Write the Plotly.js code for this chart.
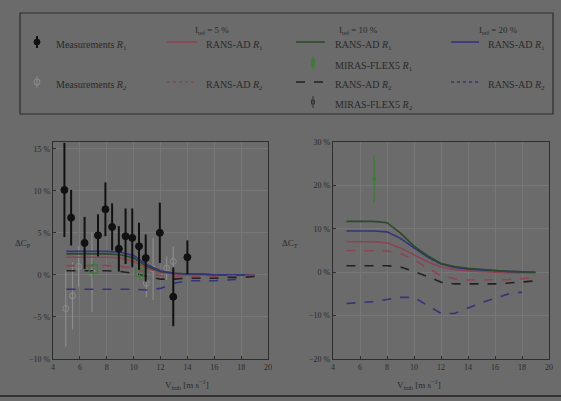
<!DOCTYPE html>
<html><head><meta charset="utf-8">
<script src="https://cdn.plot.ly/plotly-3.0.1.min.js"></script>
<style>html,body{margin:0;padding:0;background:#6b6b6b;}#plot{width:561px;height:401px;}</style>
</head><body><div id="plot"></div>
<script>
// ---- data ----
const xRans = [5,6,7,8,9,10,11,12,13,14,15,16,17,18,19];
const xRansB = [5,6,7,8,9,10,11,12,13,14,15,16,17,18];
// left panel (Delta C_P)
const leftR1_5  = [2.1,2.1,2.1,2.1,2.0,1.6,0.8,0.3,0.1,0.0,0.0,0.0,0.0,0.0,0.0];
const leftR1_10 = [2.5,2.5,2.5,2.5,2.4,2.0,1.0,0.4,0.2,0.1,0.1,0.0,0.0,0.0,0.0];
const leftR1_20 = [2.8,2.8,2.8,2.8,2.7,2.3,1.2,0.5,0.2,0.1,0.1,0.0,0.0,0.0,0.0];
const leftR2_5  = [1.1,1.1,1.1,1.1,1.0,0.8,0.3,-0.1,-0.2,-0.2,-0.2,-0.2,-0.1,-0.1,0.0];
const leftR2_10 = [0.5,0.5,0.5,0.5,0.4,0.2,-0.2,-0.5,-0.5,-0.4,-0.4,-0.4,-0.3,-0.3,-0.2];
const leftR2_20 = [-1.7,-1.7,-1.7,-1.7,-1.7,-1.7,-1.8,-1.6,-1.0,-0.7,-0.7,-0.7,-0.6,-0.5];
const measX1 = [4.85,5.35,6.35,7.35,7.9,8.4,8.9,9.4,9.9,10.4,10.9,11.95,12.95,14.0];
const measY1 = [10.1,6.8,3.8,4.7,7.8,5.7,3.1,4.6,4.4,3.4,2.0,5.0,-2.6,2.1];
const measE1 = [5.6,3.3,3.1,2.5,3.2,2.8,2.7,3.3,3.5,2.8,2.8,3.6,3.5,2.0];
const measX2 = [4.95,5.45,5.9,6.9,10.95,11.45,12.45,12.95];
const measY2 = [-4.0,-2.5,1.0,0.3,-1.0,0.7,0.8,1.6];
const measE2 = [4.5,4.0,2.4,4.7,1.6,3.7,1.4,1.8];
const mirasLX = [7.0,10.45];
const mirasLY = [0.7,0.3];
const mirasLE = [1.0,1.0];
// right panel (Delta C_T)
const rightR1_5  = [7.0,7.0,7.0,6.8,5.6,4.0,2.4,1.2,0.6,0.3,0.1,0.0,-0.1,-0.2,-0.2];
const rightR1_10 = [11.7,11.7,11.7,11.4,9.0,6.0,3.8,2.0,1.3,0.9,0.6,0.4,0.2,0.1,0.0];
const rightR1_20 = [9.5,9.5,9.5,9.3,7.8,5.6,3.5,1.9,1.1,0.7,0.5,0.3,0.2,0.1,0.0];
const rightR2_5  = [5.0,5.0,5.0,4.9,4.3,2.8,1.0,-0.8,-1.5,-1.8,-1.8,-1.8,-1.7,-1.5,-1.2];
const rightR2_10 = [1.5,1.5,1.5,1.5,1.2,0.2,-1.0,-2.3,-2.7,-2.7,-2.7,-2.7,-2.5,-2.3,-2.0];
const rightR2_20 = [-7.2,-7.0,-6.8,-6.3,-5.8,-5.8,-7.7,-9.5,-9.5,-8.2,-7.0,-6.0,-5.0,-4.6];
const mirasRX = [7.05];
const mirasRY = [21.5];
const mirasRE = [5.5];
const leftTicks = [-10,-5,0,5,10,15];
const leftTickText = ['−10 %','−5 %','0 %','5 %','10 %','15 %'];
const rightTicks = [-20,-10,0,10,20,30];
const rightTickText = ['−20 %','−10 %','0 %','10 %','20 %','30 %'];
const xTicks = [4,6,8,10,12,14,16,18,20];
const legendHeaders = ['I<sub>ref</sub> = 5 %','I<sub>ref</sub> = 10 %','I<sub>ref</sub> = 20 %'];

// ---- style ----
const BG = '#6b6b6b', TXT = '#2a2a2a', GRID = '#777777';
const RED = '#8a4452', GRN = '#2a4a2a', BLU = '#34347c', BLK = '#222222', MGRN = '#3f7a3a', GRAY='#8c8c8c';
const F = 'Liberation Serif, DejaVu Serif, serif';

function line(x,y,color,dash,ax){return {x:x,y:y,mode:'lines',type:'scatter',line:{color:color,width:1.6,dash:dash},xaxis:ax[0],yaxis:ax[1],hoverinfo:'skip'};}
function meas(x,y,e,ax,filled){return {x:x,y:y,mode:'markers',type:'scatter',xaxis:ax[0],yaxis:ax[1],
  marker:{symbol:filled?'circle':'circle-open',size:filled?7:6,color:filled?'#111':GRAY,line:{width:1,color:filled?'#111':GRAY}},
  error_y:{type:'data',array:e,visible:true,width:0,thickness:filled?2:1.2,color:filled?'#111':GRAY}};}
const A1=['x','y'], A2=['x2','y2'];
const traces = [
  meas(measX2,measY2,measE2,A1,false),
  line(xRans,leftR1_5,RED,'solid',A1),
  line(xRans,leftR1_10,GRN,'solid',A1),
  line(xRans,leftR1_20,BLU,'solid',A1),
  line(xRans,leftR2_5,RED,'dash',A1),
  line(xRans,leftR2_10,BLK,'dash',A1),
  line(xRansB,leftR2_20,BLU,'dash',A1),
  {x:mirasLX,y:mirasLY,mode:'markers',type:'scatter',xaxis:'x',yaxis:'y',marker:{symbol:'square-open',size:8,color:MGRN,line:{width:1.5,color:MGRN}},error_y:{type:'data',array:mirasLE,visible:true,width:0,thickness:1.2,color:MGRN}},
  meas(measX1,measY1,measE1,A1,true),
  line(xRans,rightR1_5,RED,'solid',A2),
  line(xRans,rightR1_20,BLU,'solid',A2),
  line(xRans,rightR1_10,GRN,'solid',A2),
  line(xRans,rightR2_5,RED,'dash',A2),
  line(xRans,rightR2_10,BLK,'dash',A2),
  line(xRansB,rightR2_20,BLU,'dash',A2),
  {x:mirasRX,y:mirasRY,mode:'markers',type:'scatter',xaxis:'x2',yaxis:'y2',marker:{symbol:'square',size:4,color:MGRN,line:{width:0}},error_y:{type:'data',array:mirasRE,visible:true,width:0,thickness:1.3,color:MGRN}}
];

const ax = (dom)=>({domain:dom,range:[4,20],tickvals:xTicks,ticktext:xTicks.map(String),showgrid:true,gridcolor:GRID,gridwidth:1,zeroline:false,
  showline:true,mirror:true,linecolor:'#2e2e2e',linewidth:1.3,ticks:'inside',ticklen:3,tickcolor:'#2e2e2e',tickfont:{family:F,size:8,color:TXT}});
const ay = (dom,rng,tv,tt,anchor)=>({domain:dom,range:rng,tickvals:tv,ticktext:tt,anchor:anchor,showgrid:true,gridcolor:GRID,gridwidth:1,zeroline:false,
  showline:true,mirror:true,linecolor:'#2e2e2e',linewidth:1.3,ticks:'inside',ticklen:3,tickcolor:'#2e2e2e',tickfont:{family:F,size:8,color:TXT}});

const W=561,H=401;
const px=(v)=>v/W, py=(v)=>1-v/H;
const yDom=[py(359),py(142)];
const shapes=[], ann=[];
// legend frame
shapes.push({type:'rect',xref:'paper',yref:'paper',x0:px(20),x1:px(553),y0:py(114),y1:py(13),line:{color:'#2e2e2e',width:1.2}});
const hdrX=[212,358,520];
legendHeaders.forEach((t,i)=>ann.push({xref:'paper',yref:'paper',x:px(hdrX[i]),y:py(23),text:t,showarrow:false,font:{family:F,size:9,color:TXT}}));
const rowY=[42,63,82,102];
function lt(x,y,t){ann.push({xref:'paper',yref:'paper',x:px(x),y:py(y-5),text:t,showarrow:false,xanchor:'left',font:{family:F,size:10,color:TXT}});}
function ls(x0,x1,y,c,d){shapes.push({type:'line',xref:'paper',yref:'paper',x0:px(x0),x1:px(x1),y0:py(y),y1:py(y),line:{color:c,width:1.6,dash:d}});}
function lm(x,y,h,c,filled,w){shapes.push({type:'line',xref:'paper',yref:'paper',x0:px(x),x1:px(x),y0:py(y-h),y1:py(y+h),line:{color:c,width:w}});
  shapes.push({type:'circle',xref:'paper',yref:'paper',x0:px(x-3),x1:px(x+3),y0:py(y+3),y1:py(y-3),fillcolor:filled?c:'rgba(0,0,0,0)',line:{color:c,width:1}});}
lm(37,rowY[0],6,'#111',true,2); lt(54,rowY[0],'Measurements <i>R</i><sub>1</sub>');
lm(37,rowY[2],6,GRAY,false,1); lt(54,rowY[2],'Measurements <i>R</i><sub>2</sub>');
ls(167,197,rowY[0],RED,'solid'); lt(204,rowY[0],'RANS-AD <i>R</i><sub>1</sub>');
ls(167,197,rowY[2],RED,'dot'); lt(204,rowY[2],'RANS-AD <i>R</i><sub>2</sub>');
ls(296,325,rowY[0],GRN,'solid'); lt(333,rowY[0],'RANS-AD <i>R</i><sub>1</sub>');
ls(296,325,rowY[2],BLK,'dash'); lt(333,rowY[2],'RANS-AD <i>R</i><sub>2</sub>');
shapes.push({type:'line',xref:'paper',yref:'paper',x0:px(313),x1:px(313),y0:py(rowY[1]-7),y1:py(rowY[1]+7),line:{color:MGRN,width:1}});
shapes.push({type:'rect',xref:'paper',yref:'paper',x0:px(311),x1:px(315),y0:py(rowY[1]+4),y1:py(rowY[1]-4),fillcolor:MGRN,line:{width:0}});
lt(333,rowY[1],'MIRAS-FLEX5 <i>R</i><sub>1</sub>');
shapes.push({type:'line',xref:'paper',yref:'paper',x0:px(313),x1:px(313),y0:py(rowY[3]-6),y1:py(rowY[3]+6),line:{color:'#333',width:1}});
shapes.push({type:'rect',xref:'paper',yref:'paper',x0:px(311.5),x1:px(314.5),y0:py(rowY[3]+2),y1:py(rowY[3]-2),fillcolor:'rgba(0,0,0,0)',line:{color:'#333',width:1}});
lt(333,rowY[3],'MIRAS-FLEX5 <i>R</i><sub>2</sub>');
ls(451,479,rowY[0],BLU,'solid'); lt(486,rowY[0],'RANS-AD <i>R</i><sub>1</sub>');
ls(451,479,rowY[2],BLU,'dot'); lt(486,rowY[2],'RANS-AD <i>R</i><sub>2</sub>');
// axis titles
ann.push({xref:'paper',yref:'paper',x:px(13),y:py(243),text:'ΔC<sub>P</sub>',showarrow:false,font:{family:F,size:9,color:TXT}});
ann.push({xref:'paper',yref:'paper',x:px(290),y:py(243),text:'ΔC<sub>T</sub>',showarrow:false,font:{family:F,size:9,color:TXT}});
ann.push({xref:'paper',yref:'paper',x:px(163),y:py(384),yanchor:'middle',text:'V<sub>hub</sub> [m s<sup>−1</sup>]',showarrow:false,font:{family:F,size:9,color:TXT}});
ann.push({xref:'paper',yref:'paper',x:px(443),y:py(384),yanchor:'middle',text:'V<sub>hub</sub> [m s<sup>−1</sup>]',showarrow:false,font:{family:F,size:9,color:TXT}});
// bottom dark band
shapes.push({type:'line',xref:'paper',yref:'paper',x0:0,x1:1,y0:py(396),y1:py(396),line:{color:'#333',width:2}});

const layout = {width:W,height:H,margin:{l:0,r:0,t:0,b:0},paper_bgcolor:BG,plot_bgcolor:BG,showlegend:false,
  xaxis:Object.assign(ax([px(53),px(268)]),{anchor:'y'}),
  yaxis:ay(yDom,[-10,15.8],leftTicks,leftTickText,'x'),
  xaxis2:Object.assign(ax([px(333),px(549)]),{anchor:'y2'}),
  yaxis2:ay(yDom,[-20,30],rightTicks,rightTickText,'x2'),
  shapes:shapes,annotations:ann};
Plotly.newPlot('plot',traces,layout,{displayModeBar:false,staticPlot:true});
</script></body></html>
